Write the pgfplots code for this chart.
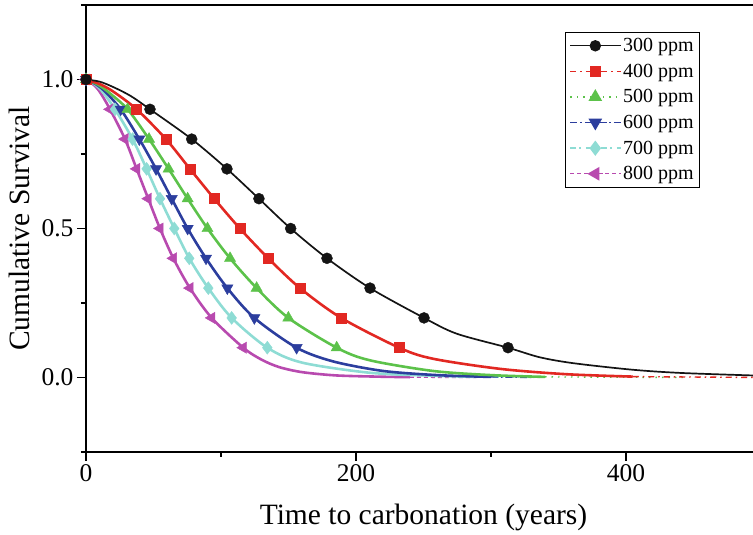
\documentclass[border=0pt]{standalone}
\usepackage{pgfplots}
\pgfplotsset{compat=1.18}
\usepackage{fontspec}
\setmainfont{Liberation Serif}
\definecolor{cA}{RGB}{20,20,20}
\definecolor{cB}{RGB}{226,40,34}
\definecolor{cC}{RGB}{92,194,74}
\definecolor{cD}{RGB}{44,62,158}
\definecolor{cE}{RGB}{142,220,212}
\definecolor{cF}{RGB}{184,74,175}
\begin{document}
\begin{tikzpicture}
\begin{axis}[name=ax, scale only axis, width=675pt, height=447pt,
 xmin=0, xmax=500, ymin=-0.25, ymax=1.25,
 xtick={0,200,400}, minor xtick={100,300,500},
 ytick={0,0.5,1}, minor ytick={-0.25,0.25,0.75,1.25},
 tick align=outside, tick pos=left,
 major tick length=9pt, minor tick length=5pt,
 yticklabel style={/pgf/number format/.cd, fixed, fixed zerofill, precision=1},
 /pgf/number format/assume math mode=true,
 tick label style={font=\fontsize{25.5}{30}\selectfont},
 label style={font=\fontsize{29.5}{35}\selectfont},
 xlabel={Time to carbonation (years)}, ylabel={Cumulative Survival},
 xlabel style={at={(axis description cs:0.5,0)}, anchor=base, yshift=-73pt},
 ylabel style={at={(axis description cs:-0.0830,0.5)}, anchor=base},
 axis line style={line width=1.1pt}, tick style={line width=1.1pt, black},
 legend style={at={(0.9096,0.9396)}, anchor=north east, draw=black, line width=0.8pt,
   font=\fontsize{20}{24}\selectfont, row sep=6.8pt, inner sep=4pt},
 legend cell align=left,
 legend image code/.code={\draw[mark repeat=2,mark phase=2] plot coordinates {(0pt,0pt)(25pt,0pt)(50pt,0pt)};},
 every axis plot/.append style={smooth, tension=0.5}
]
% legend entries
\addlegendimage{cA, line width=1.4pt, solid, mark=*, mark size=5pt, mark options={solid}}
\addlegendentry{300 ppm}
\addlegendimage{cB, line width=1.4pt, dash pattern=on 6pt off 4pt on 1.5pt off 4pt, mark=square*, mark size=5pt, mark options={solid}}
\addlegendentry{400 ppm}
\addlegendimage{cC, line width=1.4pt, dash pattern=on 1.5pt off 5pt, mark=triangle*, mark size=6.5pt, mark options={solid}}
\addlegendentry{500 ppm}
\addlegendimage{cD, line width=1.4pt, dash pattern=on 7pt off 3pt on 1.5pt off 3pt, mark=triangle*, mark size=6.5pt, mark options={solid, rotate=180}}
\addlegendentry{600 ppm}
\addlegendimage{cE, line width=1.4pt, dash pattern=on 6pt off 3pt on 1.5pt off 5pt, mark=diamond*, mark size=6.5pt, mark options={solid}}
\addlegendentry{700 ppm}
\addlegendimage{cF, line width=1.4pt, dash pattern=on 4pt off 3pt, mark=triangle*, mark size=6.5pt, mark options={solid, rotate=90}}
\addlegendentry{800 ppm}

% 800 ppm
\addplot[cF, line width=2.6pt, no marks, forget plot] coordinates {(0,1)(5,0.985)(10,0.96)(17.8,0.9)(28.9,0.8)(37.5,0.7)(46.1,0.6)(54.8,0.5)(64.7,0.4)(77,0.3)(93.1,0.2)(116.5,0.1)(130,0.06)(143,0.035)(160,0.018)(185,0.007)(215,0.003)(240,0.001)};
\addplot[cF, line width=1.4pt, no marks, forget plot, sharp plot, dash pattern=on 4pt off 3pt] coordinates {(240,0.001)(289,0)};
% 700 ppm
\addplot[cE, line width=2.6pt, no marks, forget plot] coordinates {(0,1)(6,0.985)(12,0.96)(21.5,0.9)(34.5,0.8)(44.9,0.7)(54.8,0.6)(65.4,0.5)(76.5,0.4)(90.6,0.3)(107.9,0.2)(134.3,0.1)(160,0.05)(210,0.016)(257,0.006)(290,0.002)};
\addplot[cE, line width=1.4pt, no marks, forget plot, sharp plot, dash pattern=on 6pt off 3pt on 1.5pt off 5pt] coordinates {(290,0.002)(336,0)};
% 600 ppm
\addplot[cD, line width=2.6pt, no marks, forget plot] coordinates {(0,1)(7,0.985)(14,0.96)(25.7,0.9)(39.5,0.8)(51.9,0.7)(63.5,0.6)(75.3,0.5)(88.9,0.4)(104.7,0.3)(124.7,0.2)(156,0.1)(183,0.054)(220,0.022)(260,0.008)(300,0.002)};
\addplot[cD, line width=1.4pt, no marks, forget plot, sharp plot, dash pattern=on 7pt off 3pt on 1.5pt off 3pt] coordinates {(300,0.002)(330,0)};
% 500 ppm
\addplot[cC, line width=2.6pt, no marks, forget plot] coordinates {(0,1)(8,0.985)(16,0.96)(30.8,0.9)(46.7,0.8)(61.2,0.7)(75.3,0.6)(90,0.5)(106.7,0.4)(126.4,0.3)(149.9,0.2)(185.7,0.1)(210,0.058)(257,0.022)(300,0.008)(340,0.002)};
\addplot[cC, line width=1.4pt, no marks, forget plot, sharp plot, dash pattern=on 1.5pt off 5pt] coordinates {(340,0.002)(445,0)};
% 400 ppm
\addplot[cB, line width=2.6pt, no marks, forget plot] coordinates {(0,1)(10,0.985)(20,0.96)(37.5,0.9)(59.2,0.8)(77,0.7)(95,0.6)(114,0.5)(135,0.4)(158.5,0.3)(189,0.2)(232,0.1)(257,0.063)(306.7,0.029)(356,0.011)(405,0.003)};
\addplot[cB, line width=1.4pt, no marks, forget plot, sharp plot, dash pattern=on 6pt off 4pt on 1.5pt off 4pt] coordinates {(405,0.003)(500,0)};
% 300 ppm
\addplot[cA, line width=1.7pt, no marks, forget plot] coordinates {(0,1)(10,0.993)(20,0.975)(33,0.945)(47.4,0.9)(78.3,0.8)(104.4,0.7)(128.1,0.6)(151.6,0.5)(178.5,0.4)(210.4,0.3)(250.4,0.2)(274.6,0.147)(312.6,0.1)(336,0.068)(361,0.048)(405,0.026)(442,0.015)(500,0.006)};

% markers
\addplot[cF, only marks, mark=triangle*, mark size=6.5pt, mark options={rotate=90}, forget plot] coordinates {(0,1)(17.8,0.9)(28.9,0.8)(37.5,0.7)(46.1,0.6)(54.8,0.5)(64.7,0.4)(77,0.3)(93.1,0.2)(116.5,0.1)};
\addplot[cE, only marks, mark=diamond*, mark size=6.5pt, forget plot] coordinates {(0,1)(21.5,0.9)(34.5,0.8)(44.9,0.7)(54.8,0.6)(65.4,0.5)(76.5,0.4)(90.6,0.3)(107.9,0.2)(134.3,0.1)};
\addplot[cD, only marks, mark=triangle*, mark size=6.5pt, mark options={rotate=180}, forget plot] coordinates {(0,1)(25.7,0.9)(39.5,0.8)(51.9,0.7)(63.5,0.6)(75.3,0.5)(88.9,0.4)(104.7,0.3)(124.7,0.2)(156,0.1)};
\addplot[cC, only marks, mark=triangle*, mark size=6.5pt, forget plot] coordinates {(0,1)(30.8,0.9)(46.7,0.8)(61.2,0.7)(75.3,0.6)(90,0.5)(106.7,0.4)(126.4,0.3)(149.9,0.2)(185.7,0.1)};
\addplot[cB, only marks, mark=square*, mark size=5pt, forget plot] coordinates {(0,1)(37.5,0.9)(59.2,0.8)(77,0.7)(95,0.6)(114,0.5)(135,0.4)(158.5,0.3)(189,0.2)(232,0.1)};
\addplot[cA, only marks, mark=*, mark size=5.5pt, forget plot] coordinates {(0,1)(47.4,0.9)(78.3,0.8)(104.4,0.7)(128.1,0.6)(151.6,0.5)(178.5,0.4)(210.4,0.3)(250.4,0.2)(312.6,0.1)};
\end{axis}
\pgfresetboundingbox
\path[use as bounding box] ([shift={(-86pt,-83pt)}]ax.south west) rectangle ([shift={(667pt,452pt)}]ax.south west);
\end{tikzpicture}
\end{document}
